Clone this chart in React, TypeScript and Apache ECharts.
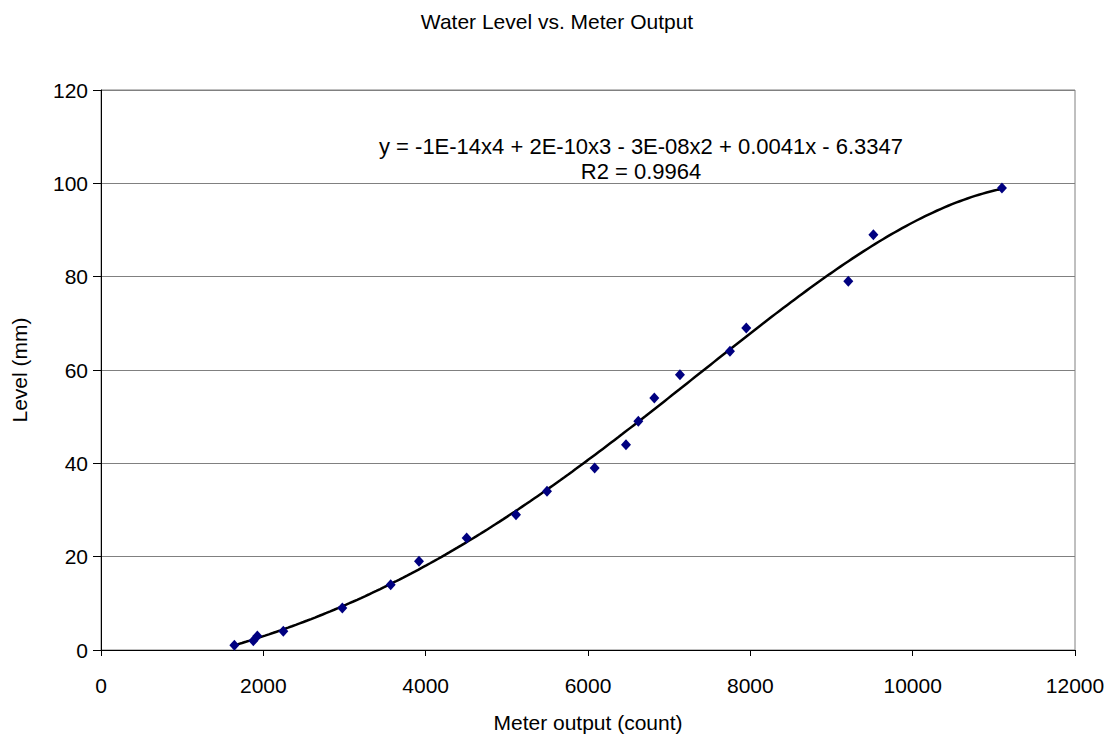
import React, { useEffect, useRef } from "react";
import * as echarts from "echarts";

const meterOutput = [1643, 1877, 1926, 2246, 2973, 3569, 3918, 4505, 5113, 5495, 6082, 6468, 6620, 6817, 7133, 7749, 7950, 9207, 9516, 11100];
const levelMm = [1, 2, 3, 4, 9, 14, 19, 24, 29, 34, 39, 44, 49, 54, 59, 64, 69, 79, 89, 99];
const xTicks = [0, 2000, 4000, 6000, 8000, 10000, 12000];
const yTicks = [0, 20, 40, 60, 80, 100, 120];
const titleText = "Water Level vs. Meter Output";
const equationText = "y = -1E-14x4 + 2E-10x3 - 3E-08x2 + 0.0041x - 6.3347";
const r2Text = "R2 = 0.9964";

function polyFit(xs: number[], ys: number[], deg: number): number[] {
  const s = 10000;
  const n = deg + 1;
  const A: number[][] = Array.from({ length: n }, () => new Array(n + 1).fill(0));
  for (let k = 0; k < xs.length; k++) {
    const x = xs[k] / s;
    for (let i = 0; i < n; i++) {
      for (let j = 0; j < n; j++) A[i][j] += Math.pow(x, i + j);
      A[i][n] += ys[k] * Math.pow(x, i);
    }
  }
  for (let c = 0; c < n; c++) {
    let p = c;
    for (let r = c + 1; r < n; r++) if (Math.abs(A[r][c]) > Math.abs(A[p][c])) p = r;
    [A[c], A[p]] = [A[p], A[c]];
    for (let r = 0; r < n; r++) {
      if (r === c) continue;
      const f = A[r][c] / A[c][c];
      for (let j = c; j <= n; j++) A[r][j] -= f * A[c][j];
    }
  }
  return A.map((row, i) => row[n] / row[i]);
}

export default function App() {
  const ref = useRef<HTMLDivElement>(null);
  useEffect(() => {
    document.body.style.margin = "0";
    if (!ref.current) return;
    const chart = echarts.init(ref.current, null, { renderer: "svg" });
    const coef = polyFit(meterOutput, levelMm, 4);
    const xmin = Math.min(...meterOutput);
    const xmax = Math.max(...meterOutput);
    const trend: number[][] = [];
    const steps = 200;
    for (let i = 0; i <= steps; i++) {
      const x = xmin + ((xmax - xmin) * i) / steps;
      const u = x / 10000;
      let y = 0;
      for (let d = coef.length - 1; d >= 0; d--) y = y * u + coef[d];
      trend.push([x, y]);
    }
    const font = "'Liberation Sans', Arial, sans-serif";
    const fs = 21;
    chart.setOption({
      animation: false,
      backgroundColor: "#ffffff",
      textStyle: { fontFamily: font },
      title: {
        text: titleText,
        left: "center",
        top: 6,
        textStyle: { fontFamily: font, fontSize: fs, fontWeight: "normal", color: "#000" },
      },
      grid: { left: 101, right: 39, top: 90, bottom: 88, show: true, borderColor: "#808080", borderWidth: 1 },
      xAxis: {
        type: "value",
        min: 0,
        max: 12000,
        interval: 2000,
        name: "Meter output (count)",
        nameLocation: "middle",
        nameGap: 62,
        nameTextStyle: { fontFamily: font, fontSize: fs, color: "#000" },
        axisLine: { lineStyle: { color: "#000", width: 1 } },
        axisTick: { show: true, length: 6, lineStyle: { color: "#000" } },
        axisLabel: { fontFamily: font, fontSize: fs, color: "#000", margin: 25, formatter: (v: number) => (xTicks.includes(v) ? String(v) : "") },
        splitLine: { show: false },
      },
      yAxis: {
        type: "value",
        min: 0,
        max: 120,
        interval: 20,
        name: "Level (mm)",
        nameLocation: "middle",
        nameGap: 71,
        nameTextStyle: { fontFamily: font, fontSize: fs, color: "#000" },
        axisLine: { show: true, lineStyle: { color: "#000", width: 1 } },
        axisTick: { show: true, length: 8, lineStyle: { color: "#000" } },
        axisLabel: { fontFamily: font, fontSize: fs, color: "#000", margin: 13, formatter: (v: number) => (yTicks.includes(v) ? String(v) : "") },
        splitLine: { show: true, lineStyle: { color: "#808080", width: 1 } },
      },
      graphic: [
        {
          type: "text",
          x: 641,
          y: 146,
          style: { text: equationText, fill: "#000", font: `22px ${font}`, textAlign: "center", textVerticalAlign: "middle" },
        },
        {
          type: "text",
          x: 641,
          y: 171,
          style: { text: r2Text, fill: "#000", font: `22px ${font}`, textAlign: "center", textVerticalAlign: "middle" },
        },
      ],
      series: [
        {
          type: "line",
          data: trend,
          showSymbol: false,
          symbol: "none",
          smooth: false,
          lineStyle: { color: "#000", width: 2.5 },
          z: 2,
        },
        {
          type: "scatter",
          data: meterOutput.map((x, i) => [x, levelMm[i]]),
          symbol: "diamond",
          symbolSize: [10, 11],
          itemStyle: { color: "#000080", opacity: 1 },
          z: 3,
        },
      ],
    });
    return () => chart.dispose();
  }, []);
  return <div ref={ref} style={{ width: 1114, height: 738 }} />;
}
